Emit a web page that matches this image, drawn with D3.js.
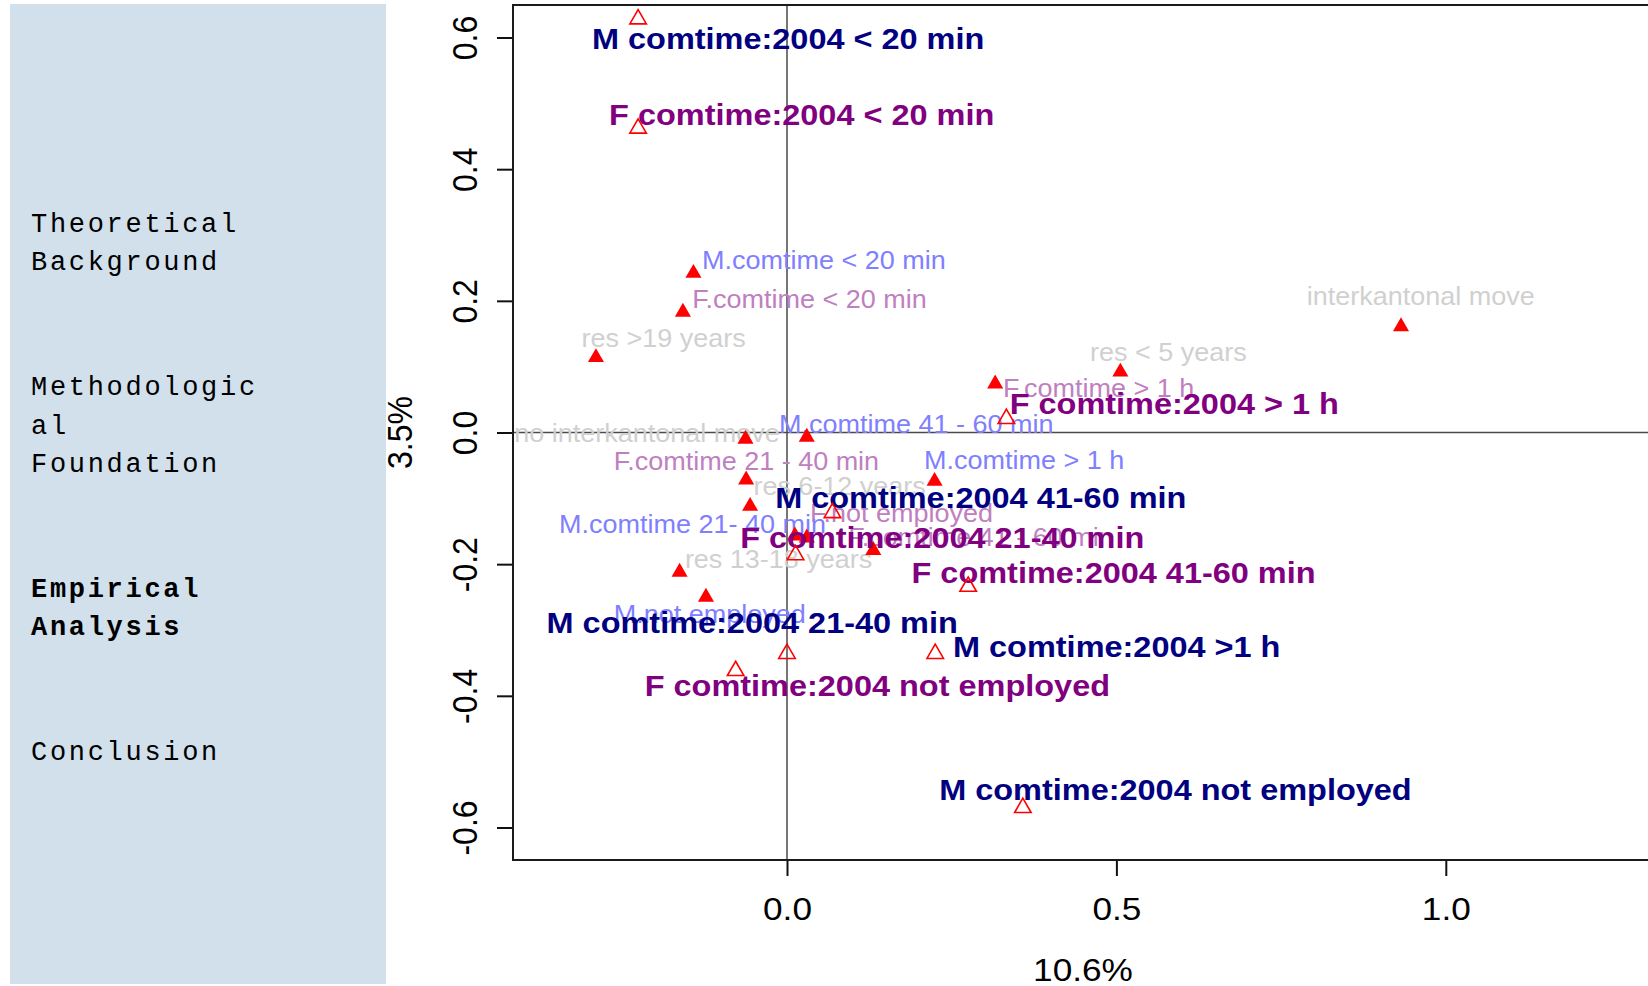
<!DOCTYPE html>
<html>
<head>
<meta charset="utf-8">
<script src="https://cdn.jsdelivr.net/npm/d3@7/dist/d3.min.js"></script>
<style>
  html, body { margin: 0; padding: 0; background: #ffffff; }
  svg { display: block; }
</style>
</head>
<body>
<svg id="chart" width="1648" height="986"></svg>
<script>
// ---- Section navigation (left panel) ----
const menuSections = [
  ["Theoretical", "Background"],
  ["Methodologic", "al", "Foundation"],
  ["Empirical", "Analysis"],
  ["Conclusion"]
];
const menuActive = [false, false, true, false];

// ---- Active row categories (filled triangles) ----
const rowLabels = [
  "M.comtime < 20 min", "F.comtime < 20 min", "res >19 years", "res < 5 years",
  "interkantonal move", "F.comtime > 1 h", "no interkantonal move", "M.comtime 41 - 60 min",
  "F.comtime 21 - 40 min", "M.comtime > 1 h", "res 6-12 years", "F.not employed",
  "M.comtime 21- 40 min", "F.comtime 41 - 60 min", "res 13-18 years", "M.not employed"
];
const rowGroup = ["M", "F", "res", "res", "res", "F", "res", "M",
                  "F", "M", "res", "F", "M", "F", "res", "M"];
const rowX = [-0.142, -0.158, -0.290, 0.506, 0.932, 0.316, -0.063, 0.030,
              -0.062, 0.224, -0.056, 0.030, 0.012, 0.131, -0.163, -0.123];
const rowY = [0.242, 0.183, 0.114, 0.092, 0.161, 0.074, -0.010, -0.007,
              -0.072, -0.074, -0.112, -0.160, -0.157, -0.179, -0.212, -0.250];
// label anchors (left edge / baseline), dimension units
const rowLabelX = [-0.129, -0.144, -0.312, 0.460, 0.789, 0.328, -0.414, -0.012,
                   -0.263, 0.208, -0.051, 0.035, -0.346, 0.093, -0.155, -0.263];
const rowLabelY = [0.249, 0.189, 0.130, 0.109, 0.194, 0.054, -0.014, 0.000,
                   -0.057, -0.056, -0.095, -0.136, -0.152, -0.172, -0.206, -0.290];

// ---- Supplementary categories (open triangles) ----
const suppLabels = [
  "M comtime:2004 < 20 min", "F comtime:2004 < 20 min", "F comtime:2004 > 1 h",
  "M comtime:2004 41-60 min", "F comtime:2004 21-40 min", "F comtime:2004 41-60 min",
  "M comtime:2004 21-40 min", "M comtime:2004 >1 h", "F comtime:2004 not employed",
  "M comtime:2004 not employed"
];
const suppGroup = ["M", "F", "F", "M", "F", "F", "M", "M", "F", "M"];
const suppX = [-0.226, -0.226, 0.333, 0.069, 0.013, 0.275, 0.000, 0.225, -0.078, 0.358];
const suppY = [0.628, 0.462, 0.021, -0.122, -0.186, -0.234, -0.336, -0.336, -0.362, -0.570];
const suppLabelX = [-0.296, -0.270, 0.338, -0.018, -0.071, 0.189, -0.365, 0.252, -0.216, 0.231];
const suppLabelY = [0.582, 0.467, 0.028, -0.115, -0.176, -0.229, -0.305, -0.341, -0.401, -0.558];

// ---- Axes ----
const xTicks = [0, 0.5, 1.0];
const xTickLabels = ["0.0", "0.5", "1.0"];
const yTicks = [-0.6, -0.4, -0.2, 0, 0.2, 0.4, 0.6];
const yTickLabels = ["-0.6", "-0.4", "-0.2", "0.0", "0.2", "0.4", "0.6"];
const xTitle = "10.6%";
const yTitle = "3.5%";

// ---- Drawing ----
const svg = d3.select("#chart");
const plot = { left: 513, right: 1653, top: 5, bottom: 860 };

const x = d3.scaleLinear().domain([-0.4159, 1.3145]).range([plot.left, plot.right]);
const y = d3.scaleLinear().domain([-0.6494, 0.6494]).range([plot.bottom, plot.top]);

const sansFont = "'Liberation Sans', Arial, Helvetica, sans-serif";
const rowColor = { M: "#8080ff", F: "#bf80bf", res: "#d0d0d0" };
const suppColor = { M: "#000080", F: "#800080" };

// left navigation panel
svg.append("rect")
  .attr("x", 10).attr("y", 4).attr("width", 376).attr("height", 980)
  .attr("fill", "#d2e0eb");

const menu = svg.append("g")
  .attr("font-family", "'Liberation Mono', 'DejaVu Sans Mono', monospace")
  .attr("font-size", 27)
  .attr("letter-spacing", "2.7px")
  .attr("fill", "#000");
let baseline = 232;
menuSections.forEach((lines, i) => {
  lines.forEach((ln, j) => {
    menu.append("text")
      .attr("x", 31).attr("y", baseline)
      .attr("font-weight", menuActive[i] ? "bold" : "normal")
      .text(ln);
    if (j < lines.length - 1) baseline += 38.3;
  });
  baseline += 125;
});

// reference lines through the origin
svg.append("line")
  .attr("x1", plot.left).attr("x2", plot.right)
  .attr("y1", y(0)).attr("y2", y(0))
  .attr("stroke", "#4a4a4a").attr("stroke-width", 1.5);
svg.append("line")
  .attr("x1", x(0)).attr("x2", x(0))
  .attr("y1", plot.top).attr("y2", plot.bottom)
  .attr("stroke", "#4a4a4a").attr("stroke-width", 1.5);

// axes
const xAxis = svg.append("g")
  .attr("transform", `translate(0,${plot.bottom})`)
  .call(d3.axisBottom(x).tickValues(xTicks)
    .tickFormat((d, i) => xTickLabels[i]).tickSize(16).tickSizeOuter(0));
const yAxis = svg.append("g")
  .attr("transform", `translate(${plot.left},0)`)
  .call(d3.axisLeft(y).tickValues(yTicks)
    .tickFormat((d, i) => yTickLabels[i]).tickSize(16).tickSizeOuter(0));

[xAxis, yAxis].forEach(g => {
  g.select(".domain").remove();
  g.selectAll(".tick line").attr("stroke", "#111").attr("stroke-width", 2);
  g.selectAll(".tick text")
    .attr("font-family", sansFont).attr("font-size", 32).attr("fill", "#000")
    .attr("x", null).attr("y", null).attr("dy", null)
    .attr("text-anchor", "middle");
});
xAxis.selectAll(".tick text").attr("transform", "translate(0,60) scale(1.1,1)");
yAxis.selectAll(".tick text").attr("transform", "translate(-36,0) scale(1.1,1) rotate(-90)");

// plot frame
svg.append("rect")
  .attr("x", plot.left).attr("y", plot.top)
  .attr("width", plot.right - plot.left).attr("height", plot.bottom - plot.top)
  .attr("fill", "none").attr("stroke", "#1a1a1a").attr("stroke-width", 2);

// axis titles
svg.append("text")
  .attr("transform", `translate(${(plot.left + plot.right) / 2},981) scale(1.1,1)`)
  .attr("text-anchor", "middle")
  .attr("font-family", sansFont).attr("font-size", 32).attr("fill", "#000")
  .text(xTitle);
svg.append("text")
  .attr("transform", `translate(412,${(plot.top + plot.bottom) / 2}) scale(1.1,1) rotate(-90)`)
  .attr("text-anchor", "middle")
  .attr("font-family", sansFont).attr("font-size", 32).attr("fill", "#000")
  .text(yTitle);

// active category labels
svg.append("g").selectAll("text")
  .data(rowLabels)
  .join("text")
  .attr("transform", (d, i) => `translate(${x(rowLabelX[i])},${y(rowLabelY[i])}) scale(1.08,1)`)
  .attr("font-family", sansFont).attr("font-size", 25)
  .attr("fill", (d, i) => rowColor[rowGroup[i]])
  .text(d => d);

// active category markers
const filledTri = d3.symbol().type(d3.symbolTriangle).size(112);
svg.append("g").selectAll("path")
  .data(rowLabels)
  .join("path")
  .attr("d", filledTri)
  .attr("transform", (d, i) => `translate(${x(rowX[i])},${y(rowY[i])})`)
  .attr("fill", "#ff0000");

// supplementary labels
svg.append("g").selectAll("text")
  .data(suppLabels)
  .join("text")
  .attr("transform", (d, i) => `translate(${x(suppLabelX[i])},${y(suppLabelY[i])}) scale(1.12,1)`)
  .attr("font-family", sansFont).attr("font-size", 29).attr("font-weight", "bold")
  .attr("fill", (d, i) => suppColor[suppGroup[i]])
  .text(d => d);

// supplementary markers
const openTri = d3.symbol().type(d3.symbolTriangle).size(118);
svg.append("g").selectAll("path")
  .data(suppLabels)
  .join("path")
  .attr("d", openTri)
  .attr("transform", (d, i) => `translate(${x(suppX[i])},${y(suppY[i])})`)
  .attr("fill", "none").attr("stroke", "#ff0000").attr("stroke-width", 1.6);
</script>
</body>
</html>
